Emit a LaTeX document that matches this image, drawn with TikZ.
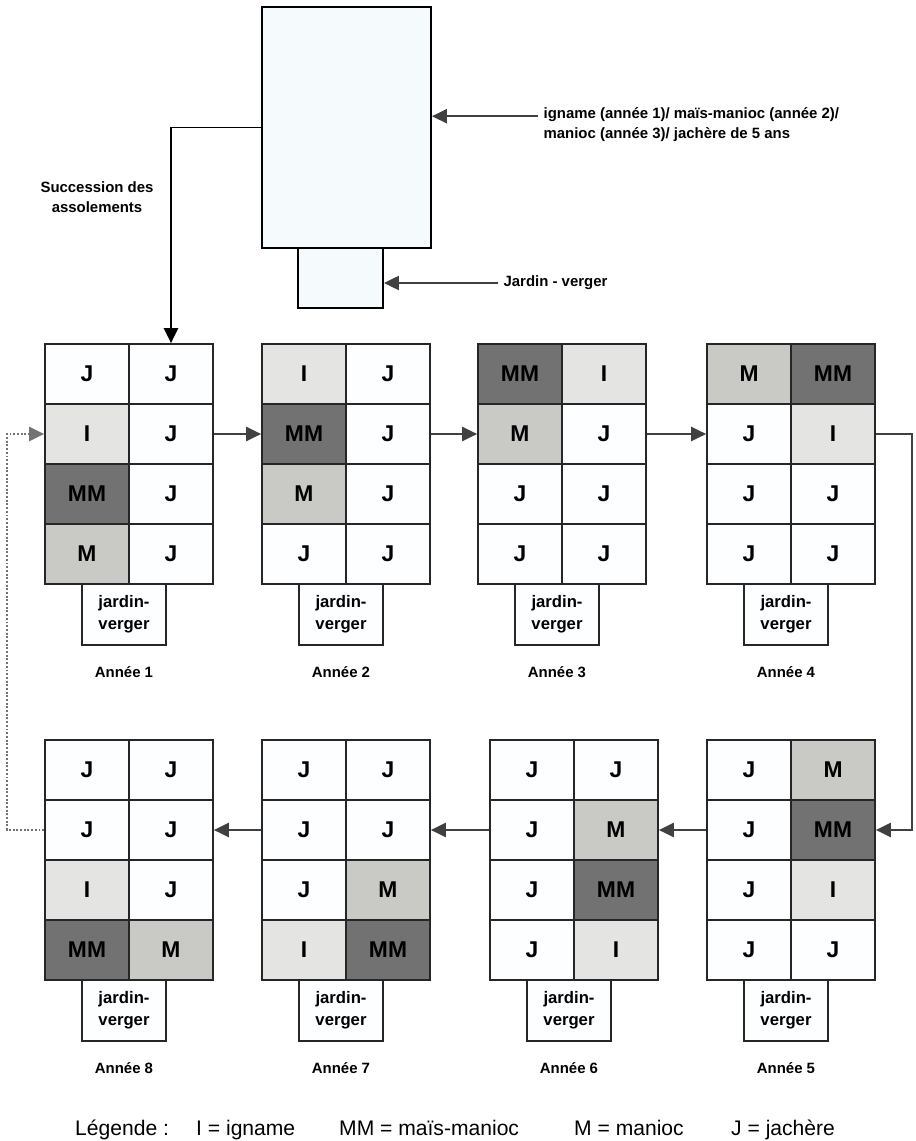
\documentclass[tikz,border=0pt]{standalone}
\usepackage{fontspec}
\setmainfont{Liberation Sans}
\usepackage{tikz}
\usetikzlibrary{arrows.meta,positioning,calc}

\definecolor{cJ}{HTML}{FCFEFF}
\definecolor{cI}{HTML}{E4E4E2}
\definecolor{cM}{HTML}{C9C9C5}
\definecolor{cMM}{HTML}{727272}
\definecolor{ciel}{HTML}{F5FBFD}

\tikzset{
  parcelle/.style={draw=black!85,line width=1pt,minimum width=1.68cm,minimum height=1.2cm,
    inner sep=0pt,font=\bfseries\fontsize{13}{15}\selectfont},
  jardin/.style={draw=black!85,line width=1pt,fill=cJ,minimum width=1.68cm,minimum height=1.22cm,
    inner sep=0pt,align=center,font=\bfseries\fontsize{9.5}{12.5}\selectfont},
  titre/.style={font=\bfseries\fontsize{8.5}{10}\selectfont},
  note/.style={font=\bfseries\fontsize{8.5}{11.3}\selectfont},
  legende/.style={anchor=base west,font=\fontsize{12}{14}\selectfont},
  fleche/.style={-{Triangle[length=8.5pt,width=8pt]},line width=1.1pt,draw=black!75},
  retour/.style={fleche,densely dotted,draw=black!55}
}

% #1 annee, #2 x gauche, #3 y haut, #4 lignes gauche/droite
\newcommand{\annee}[4]{%
  \foreach \g/\d [count=\r] in {#4} {
    \node[parcelle,fill=c\g] (a#1-\r-1) at (#2+42,#3+60*\r-30) {\g};
    \node[parcelle,fill=c\d] (a#1-\r-2) at (#2+126,#3+60*\r-30) {\d};
  }
  \node[jardin] (j#1) at (#2+79,#3+270.5) {jardin-\\verger};
  \node[titre] (t#1) at (#2+79,#3+328) {Ann\'ee #1};
}

\begin{document}
\begin{tikzpicture}[x=0.02cm,y=-0.02cm]
\useasboundingbox (0,0) rectangle (915,1141);

% schema du haut
\node[draw,line width=1.1pt,fill=ciel,minimum width=3.38cm,minimum height=4.82cm] (haut) at (346.5,127.5) {};
\node[draw,line width=1.1pt,fill=ciel,minimum width=1.7cm,minimum height=1.2cm] (jardin0) at (340.5,278) {};
\node[note,anchor=west,align=left,inner xsep=3pt] (rot) at (538,125)
  {igname (ann\'ee 1)/ ma\"is-manioc (ann\'ee 2)/\\manioc (ann\'ee 3)/ jach\`ere de 5 ans};
\node[note,anchor=west,inner xsep=3pt] (jv) at (498,283) {Jardin - verger};
\node[note,align=center] (succ) at (97,197) {Succession des\\assolements};
\draw[fleche] ([yshift=5pt]rot.west) -- ([yshift=5pt]rot.west -| haut.east);
\draw[fleche] (jv.west) -- (jv.west -| jardin0.east);

% les huit annees
\annee{1}{45}{344}{J/J,I/J,MM/J,M/J}
\annee{2}{262}{344}{I/J,MM/J,M/J,J/J}
\annee{3}{478}{344}{MM/I,M/J,J/J,J/J}
\annee{4}{707}{344}{M/MM,J/I,J/J,J/J}
\annee{5}{707}{740}{J/M,J/MM,J/I,J/J}
\annee{6}{490}{740}{J/J,J/M,J/MM,J/I}
\annee{7}{262}{740}{J/J,J/J,J/M,I/MM}
\annee{8}{45}{740}{J/J,J/J,I/J,MM/M}

\draw[fleche,draw=black] (haut.west) -| (a1-1-2.north);
\draw[fleche] (a1-2-2.east) -- (a2-2-1.west);
\draw[fleche] (a2-2-2.east) -- (a3-2-1.west);
\draw[fleche] (a3-2-2.east) -- (a4-2-1.west);
\draw[fleche] (a4-2-2.east) -- ++(36,0) |- (a5-2-2.east);
\draw[fleche] (a5-2-1.west) -- (a6-2-2.east);
\draw[fleche] (a6-2-1.west) -- (a7-2-2.east);
\draw[fleche] (a7-2-1.west) -- (a8-2-2.east);
\draw[retour] (a8-2-1.west) -- ++(-37,0) |- (a1-2-1.west);

% legende
\node[legende] (leg0) at (69,1135) {L\'egende :};
\node[legende] (leg1) at (190,1135) {I = igname};
\node[legende] (leg2) at (333,1135) {MM = ma\"is-manioc};
\node[legende] (leg3) at (568,1135) {M = manioc};
\node[legende] (leg4) at (725,1135) {J = jach\`ere};
\end{tikzpicture}
\end{document}
